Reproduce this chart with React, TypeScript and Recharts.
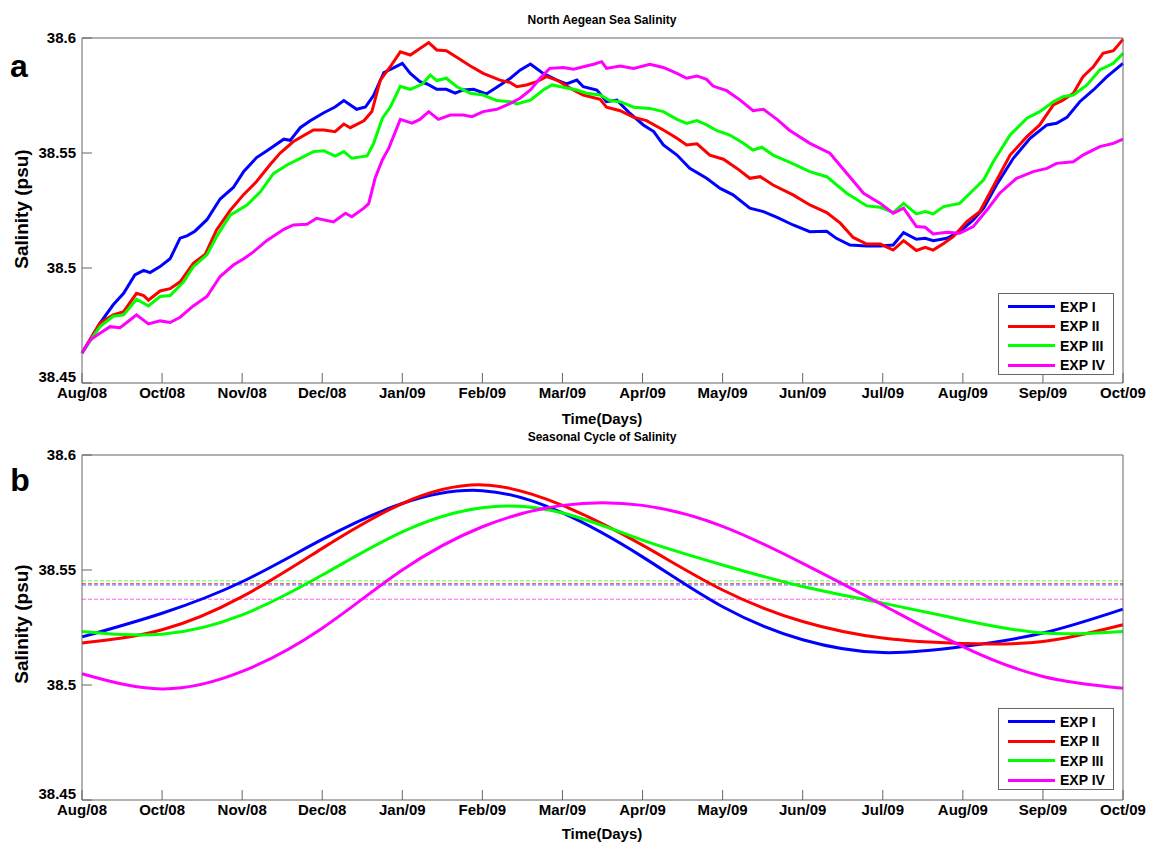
import { Line, LineChart, ReferenceLine, XAxis, YAxis } from 'recharts'

const FONT = '"Liberation Sans", Arial, sans-serif'

type Obs = [number, number]

// month index (0 = Aug/08 ... 13 = Oct/09) -> tick text, as printed on the figure
const monthLabels = [
  'Aug/08', 'Oct/08', 'Nov/08', 'Dec/08', 'Jan/09', 'Feb/09', 'Mar/09',
  'Apr/09', 'May/09', 'Jun/09', 'Jul/09', 'Aug/09', 'Sep/09', 'Oct/09',
]
const monthTicks = monthLabels.map((_, i) => i)
const salinityTicks = [38.45, 38.5, 38.55, 38.6]

const seriesNames = ['EXP I', 'EXP II', 'EXP III', 'EXP IV']
const seriesColors = ['#0000ff', '#ff0000', '#00ff00', '#ff00ff']

// panel a: daily salinity as [month index, psu]
const exp1Daily: Obs[] = [
  [0, 38.463], [0.225, 38.476], [0.39, 38.484], [0.52, 38.489], [0.66, 38.497], [0.77, 38.499],
  [0.85, 38.498], [0.975, 38.5006], [1.1, 38.504], [1.225, 38.513], [1.31, 38.514], [1.41, 38.516],
  [1.56, 38.521], [1.725, 38.53], [1.89, 38.535], [2.02, 38.542], [2.18, 38.548], [2.31, 38.551],
  [2.52, 38.556], [2.6, 38.5555], [2.725, 38.561], [2.85, 38.564], [3.02, 38.5675], [3.16, 38.57],
  [3.27, 38.5728], [3.43, 38.569], [3.54, 38.57], [3.64, 38.575], [3.77, 38.585], [3.89, 38.587],
  [4.0, 38.589], [4.1, 38.5846], [4.22, 38.581], [4.31, 38.58], [4.43, 38.5777], [4.55, 38.5777],
  [4.66, 38.576], [4.76, 38.5774], [4.89, 38.5777], [5.05, 38.5757], [5.18, 38.5786], [5.35, 38.5825],
  [5.47, 38.586], [5.6, 38.5887], [5.76, 38.5846], [5.93, 38.5817], [6.05, 38.58], [6.18, 38.5817],
  [6.26, 38.5788], [6.43, 38.5774], [6.55, 38.5723], [6.68, 38.573], [6.84, 38.5673], [7.01, 38.5622],
  [7.14, 38.5593], [7.26, 38.5535], [7.43, 38.5491], [7.59, 38.5433], [7.8, 38.539], [7.97, 38.5346],
  [8.13, 38.5318], [8.34, 38.526], [8.51, 38.5245], [8.68, 38.522], [8.88, 38.5187], [9.09, 38.5158],
  [9.3, 38.516], [9.42, 38.5129], [9.59, 38.51], [9.8, 38.5096], [9.97, 38.5096], [10.13, 38.51],
  [10.26, 38.5154], [10.42, 38.5125], [10.53, 38.5129], [10.63, 38.5119], [10.8, 38.5129], [10.96, 38.5158],
  [11.13, 38.5209], [11.26, 38.526], [11.42, 38.5361], [11.63, 38.5477], [11.84, 38.5564], [12.05, 38.5622],
  [12.17, 38.5629], [12.3, 38.5655], [12.46, 38.5723], [12.63, 38.5774], [12.8, 38.5832], [13.0, 38.589],
]

const exp2Daily: Obs[] = [
  [0, 38.463], [0.225, 38.476], [0.39, 38.4796], [0.52, 38.481], [0.68, 38.489], [0.77, 38.488],
  [0.83, 38.486], [0.975, 38.49], [1.1, 38.491], [1.225, 38.494], [1.39, 38.502], [1.54, 38.506],
  [1.68, 38.5165], [1.85, 38.525], [2.02, 38.532], [2.18, 38.5376], [2.35, 38.545], [2.475, 38.55],
  [2.64, 38.555], [2.89, 38.56], [3.02, 38.56], [3.16, 38.5593], [3.27, 38.5626], [3.35, 38.561],
  [3.52, 38.564], [3.62, 38.568], [3.725, 38.5817], [3.85, 38.5875], [3.975, 38.594], [4.1, 38.5926],
  [4.225, 38.5955], [4.33, 38.598], [4.43, 38.5948], [4.55, 38.5945], [4.68, 38.5916], [4.85, 38.5878],
  [5.01, 38.5846], [5.22, 38.5817], [5.35, 38.5806], [5.43, 38.5788], [5.55, 38.5796], [5.68, 38.581],
  [5.8, 38.5832], [5.93, 38.5817], [6.1, 38.5781], [6.26, 38.5752], [6.47, 38.5733], [6.55, 38.5699],
  [6.72, 38.5684], [6.89, 38.5655], [7.05, 38.5641], [7.26, 38.56], [7.43, 38.5564], [7.55, 38.5535],
  [7.68, 38.554], [7.84, 38.5491], [8.01, 38.5473], [8.18, 38.5433], [8.34, 38.539], [8.47, 38.5397],
  [8.63, 38.5361], [8.88, 38.5318], [9.09, 38.5274], [9.3, 38.5241], [9.47, 38.5195], [9.63, 38.5133],
  [9.8, 38.5104], [9.97, 38.5104], [10.13, 38.5078], [10.26, 38.5119], [10.42, 38.5076], [10.53, 38.509],
  [10.63, 38.5078], [10.76, 38.5107], [10.88, 38.5136], [11.05, 38.5202], [11.21, 38.5245], [11.38, 38.5354],
  [11.59, 38.5491], [11.8, 38.5571], [11.96, 38.5622], [12.13, 38.5709], [12.25, 38.573], [12.38, 38.576],
  [12.5, 38.5832], [12.63, 38.5875], [12.75, 38.5933], [12.88, 38.5945], [13.0, 38.5994],
]

const exp3Daily: Obs[] = [
  [0, 38.463], [0.225, 38.4745], [0.39, 38.479], [0.52, 38.4796], [0.68, 38.4864], [0.83, 38.4835],
  [0.975, 38.4876], [1.1, 38.488], [1.27, 38.494], [1.39, 38.5006], [1.56, 38.5057], [1.68, 38.5136],
  [1.85, 38.523], [2.06, 38.5274], [2.225, 38.533], [2.39, 38.541], [2.56, 38.5448], [2.725, 38.5477],
  [2.89, 38.5506], [3.02, 38.551], [3.16, 38.5487], [3.27, 38.5506], [3.37, 38.5477], [3.56, 38.5487],
  [3.64, 38.554], [3.75, 38.565], [3.85, 38.57], [3.975, 38.579], [4.1, 38.5777], [4.25, 38.58],
  [4.35, 38.5839], [4.43, 38.5815], [4.55, 38.5825], [4.68, 38.5788], [4.85, 38.576], [5.01, 38.5752],
  [5.18, 38.5728], [5.35, 38.5723], [5.43, 38.5713], [5.6, 38.573], [5.76, 38.5774], [5.87, 38.5796],
  [6.01, 38.5786], [6.18, 38.5774], [6.3, 38.576], [6.47, 38.5752], [6.59, 38.5728], [6.72, 38.5723],
  [6.89, 38.5699], [7.09, 38.5694], [7.26, 38.568], [7.43, 38.5646], [7.55, 38.5629], [7.68, 38.5641],
  [7.8, 38.5622], [7.93, 38.5597], [8.09, 38.5578], [8.26, 38.5542], [8.38, 38.5513], [8.49, 38.5525],
  [8.63, 38.5491], [8.82, 38.5462], [9.09, 38.5419], [9.3, 38.5397], [9.55, 38.5325], [9.8, 38.527],
  [9.97, 38.5264], [10.13, 38.5241], [10.26, 38.5281], [10.42, 38.5235], [10.53, 38.5245], [10.63, 38.5235],
  [10.76, 38.5267], [10.96, 38.5281], [11.13, 38.5339], [11.26, 38.5383], [11.38, 38.5462], [11.59, 38.5578],
  [11.8, 38.5651], [11.96, 38.568], [12.13, 38.5723], [12.25, 38.5745], [12.38, 38.5752], [12.55, 38.5796],
  [12.71, 38.5861], [12.88, 38.589], [13.0, 38.5933],
]

const exp4Daily: Obs[] = [
  [0, 38.463], [0.1, 38.4687], [0.225, 38.4716], [0.35, 38.4745], [0.475, 38.474], [0.6, 38.4774],
  [0.68, 38.4796], [0.83, 38.4757], [0.975, 38.477], [1.1, 38.4763], [1.225, 38.4786], [1.39, 38.4835],
  [1.56, 38.4876], [1.725, 38.4963], [1.89, 38.5013], [2.02, 38.504], [2.14, 38.507], [2.31, 38.512],
  [2.52, 38.5168], [2.64, 38.5187], [2.81, 38.519], [2.93, 38.5216], [3.14, 38.52], [3.29, 38.5238],
  [3.37, 38.5223], [3.52, 38.526], [3.58, 38.528], [3.66, 38.539], [3.75, 38.547], [3.83, 38.552],
  [3.975, 38.5646], [4.12, 38.563], [4.22, 38.5646], [4.33, 38.568], [4.45, 38.5646], [4.6, 38.5665],
  [4.76, 38.5665], [4.87, 38.5658], [5.01, 38.568], [5.18, 38.569], [5.35, 38.5716], [5.47, 38.5738],
  [5.6, 38.5774], [5.72, 38.5825], [5.84, 38.5868], [6.01, 38.5872], [6.14, 38.5864], [6.26, 38.5875],
  [6.39, 38.5886], [6.49, 38.5897], [6.55, 38.5868], [6.72, 38.5878], [6.89, 38.5868], [7.09, 38.5886],
  [7.26, 38.5872], [7.43, 38.5846], [7.55, 38.5825], [7.68, 38.5835], [7.8, 38.582], [7.88, 38.5791],
  [8.05, 38.5771], [8.22, 38.573], [8.38, 38.5684], [8.51, 38.569], [8.68, 38.5646], [8.83, 38.56],
  [9.09, 38.5542], [9.34, 38.5499], [9.55, 38.5412], [9.76, 38.5325], [9.97, 38.5281], [10.13, 38.5238],
  [10.26, 38.526], [10.42, 38.518], [10.53, 38.5177], [10.63, 38.5148], [10.8, 38.5155], [10.96, 38.5151],
  [11.13, 38.518], [11.3, 38.5252], [11.46, 38.5325], [11.67, 38.539], [11.88, 38.5419], [12.05, 38.5433],
  [12.17, 38.5455], [12.38, 38.5462], [12.5, 38.5491], [12.71, 38.5528], [12.88, 38.5542], [13.0, 38.556],
]

// panel b: fitted seasonal cycle, one value per tick
const exp1Seasonal = [38.5209, 38.5312, 38.5449, 38.5633, 38.5789, 38.5845, 38.5748, 38.5557, 38.534, 38.5197, 38.5141, 38.5167, 38.5226, 38.533]
const exp2Seasonal = [38.5183, 38.524, 38.5384, 38.5594, 38.5789, 38.587, 38.5781, 38.5608, 38.5413, 38.5276, 38.5204, 38.518, 38.5189, 38.5262]
const exp3Seasonal = [38.5233, 38.5221, 38.5305, 38.5478, 38.5666, 38.5771, 38.5748, 38.563, 38.5522, 38.5428, 38.5356, 38.5283, 38.5226, 38.5233]
const exp4Seasonal = [38.5049, 38.4983, 38.5059, 38.5247, 38.55, 38.5688, 38.5781, 38.5781, 38.569, 38.5529, 38.5348, 38.5167, 38.5037, 38.4986]

// dashed mean levels in panel b
const seasonalMeans = [38.5435, 38.5441, 38.5453, 38.5373]

type Series = { name: string; color: string; points: { t: number; v: number }[] }

const fromObs = (obs: Obs[]) => obs.map(([t, v]) => ({ t, v }))
const fromMonthly = (vals: number[]) => vals.map((v, t) => ({ t, v }))

const dailySeries: Series[] = [exp1Daily, exp2Daily, exp3Daily, exp4Daily].map((d, i) => ({
  name: seriesNames[i],
  color: seriesColors[i],
  points: fromObs(d),
}))

const seasonalSeries: Series[] = [exp1Seasonal, exp2Seasonal, exp3Seasonal, exp4Seasonal].map((d, i) => ({
  name: seriesNames[i],
  color: seriesColors[i],
  points: fromMonthly(d),
}))

const AXIS = '#666'
const tickStyle = { fill: '#000', fontSize: 15, fontWeight: 700, fontFamily: FONT }

// y tick text; the lowest one sits a little high, as in the original figure
function SalinityTick({ x, y, payload }: any) {
  const lift = payload.value === salinityTicks[0] ? -6 : 0
  return (
    <text x={x} y={y + lift} dy={5} textAnchor="end" {...tickStyle}>
      {payload.value}
    </text>
  )
}

function SalinityPanel({ series, smooth, means }: { series: Series[]; smooth?: boolean; means?: number[] }) {
  return (
    <LineChart width={1151} height={420} margin={{ top: 37, right: 27, bottom: 7, left: 0 }}>
      <XAxis
        type="number"
        dataKey="t"
        domain={[0, 13]}
        ticks={monthTicks}
        interval={0}
        tickFormatter={(i: number) => monthLabels[i]}
        tickSize={-10}
        tickMargin={14}
        height={30}
        stroke={AXIS}
        tick={tickStyle}
      />
      <XAxis
        xAxisId="top"
        orientation="top"
        type="number"
        dataKey="t"
        domain={[0, 13]}
        ticks={monthTicks}
        interval={0}
        tickSize={-10}
        height={1}
        stroke={AXIS}
        tick={() => null}
      />
      <YAxis
        type="number"
        domain={[38.45, 38.6]}
        ticks={salinityTicks}
        interval={0}
        tickSize={-10}
        tickMargin={16}
        width={82}
        stroke={AXIS}
        tick={SalinityTick}
      />
      <YAxis
        yAxisId="right"
        orientation="right"
        type="number"
        domain={[38.45, 38.6]}
        ticks={salinityTicks}
        interval={0}
        tickSize={-10}
        width={1}
        stroke={AXIS}
        tick={() => null}
      />
      {means &&
        means.map((m, i) => (
          <ReferenceLine
            key={'m' + i}
            y={m}
            stroke={seriesColors[i]}
            strokeOpacity={0.65}
            strokeWidth={1}
            strokeDasharray="4 2"
          />
        ))}
      {series.map((s) => (
        <Line
          key={s.name}
          data={s.points}
          dataKey="v"
          name={s.name}
          type={smooth ? 'natural' : 'linear'}
          stroke={s.color}
          strokeWidth={3}
          dot={false}
          activeDot={false}
          isAnimationActive={false}
        />
      ))}
    </LineChart>
  )
}

function LegendBox({ top }: { top: number }) {
  return (
    <div
      style={{
        position: 'absolute',
        left: 998,
        top,
        width: 116,
        height: 82,
        border: `1px solid ${AXIS}`,
        background: '#fff',
        padding: '3px 0 0 9px',
        boxSizing: 'border-box',
      }}
    >
      {seriesNames.map((name, i) => (
        <div key={name} style={{ display: 'flex', alignItems: 'center', height: 19.5 }}>
          <div style={{ width: 47, height: 3, background: seriesColors[i], marginRight: 5 }} />
          <span style={{ fontSize: 14, fontWeight: 700, lineHeight: 1 }}>{name}</span>
        </div>
      ))}
    </div>
  )
}

function Centered({ x, y, size, children, rotate }: { x: number; y: number; size: number; children: string; rotate?: boolean }) {
  return (
    <div
      style={{
        position: 'absolute',
        left: x,
        top: y,
        fontSize: size,
        fontWeight: 700,
        lineHeight: 1,
        whiteSpace: 'nowrap',
        transform: `translate(-50%, -50%)${rotate ? ' rotate(-90deg)' : ''}`,
      }}
    >
      {children}
    </div>
  )
}

export default function App() {
  return (
    <div
      style={{
        position: 'absolute',
        left: 0,
        top: 0,
        width: 1151,
        height: 842,
        background: '#fff',
        fontFamily: FONT,
        color: '#000',
        overflow: 'hidden',
      }}
    >
      <div style={{ position: 'absolute', left: 0, top: 0 }}>
        <SalinityPanel series={dailySeries} />
      </div>
      <div style={{ position: 'absolute', left: 0, top: 417 }}>
        <SalinityPanel series={seasonalSeries} smooth means={seasonalMeans} />
      </div>

      <Centered x={602} y={20} size={12}>North Aegean Sea Salinity</Centered>
      <Centered x={602} y={418} size={15}>Time(Days)</Centered>
      <Centered x={602} y={437} size={12}>Seasonal Cycle of Salinity</Centered>
      <Centered x={602} y={833} size={15}>Time(Days)</Centered>

      <Centered x={19} y={66} size={32}>a</Centered>
      <Centered x={20} y={480} size={32}>b</Centered>

      <Centered x={21} y={209} size={19} rotate>Salinity (psu)</Centered>
      <Centered x={21} y={624} size={19} rotate>Salinity (psu)</Centered>

      <LegendBox top={293} />
      <LegendBox top={708} />
    </div>
  )
}
